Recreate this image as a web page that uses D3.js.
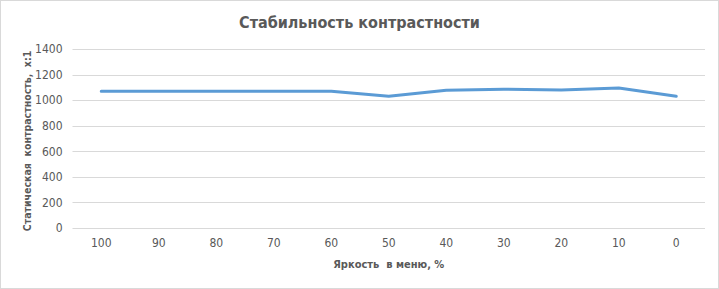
<!DOCTYPE html>
<html><head><meta charset="utf-8">
<script src="https://cdn.jsdelivr.net/npm/d3@7"></script>
<style>body{margin:0;background:#fff}svg{display:block}text{font-family:"Liberation Sans Narrow","DejaVu Sans Condensed","Liberation Sans",sans-serif}</style>
</head><body><svg id="c" width="719" height="289"></svg>
<script>
const categories = ["100","90","80","70","60","50","40","30","20","10","0"];
const contrast = [1070,1070,1070,1070,1070,1030,1078,1085,1080,1095,1030];
const yTicks = [0,200,400,600,800,1000,1200,1400];
const title = "Стабильность контрастности";
const yTitle = "Статическая  контрастность,  х:1";
const xTitle = "Яркость  в меню, %";

const svg = d3.select("#c");
const W = 719, H = 289;
const m = {l:72.5, r:14, t:49, b:61};
svg.append("rect").attr("x",0.5).attr("y",0.5).attr("width",W-1).attr("height",H-1)
  .attr("fill","#fff").attr("stroke","#d9d9d9");

const x = d3.scaleBand().domain(categories).range([m.l, W-m.r]);
const y = d3.scaleLinear().domain([0,1400]).range([H-m.b, m.t]);

const grid = svg.append("g");
grid.selectAll("line").data(yTicks).join("line")
  .attr("x1",m.l).attr("x2",W-m.r)
  .attr("y1",d=>Math.round(y(d))+0.5).attr("y2",d=>Math.round(y(d))+0.5)
  .attr("stroke","#d9d9d9").attr("stroke-width",1);

const yAxis = d3.axisLeft(y).tickValues(yTicks).tickFormat(d3.format("d")).tickSize(0).tickPadding(10);
svg.append("g").attr("transform",`translate(${m.l},0)`).call(yAxis)
  .call(g=>g.select(".domain").remove())
  .call(g=>g.selectAll("text").attr("fill","#595959").style("font-size","12px").attr("font-family",null));

const xAxis = d3.axisBottom(x).tickSize(0).tickPadding(10);
svg.append("g").attr("transform",`translate(0,${H-m.b})`).call(xAxis)
  .call(g=>g.select(".domain").remove())
  .call(g=>g.selectAll("text").attr("fill","#595959").style("font-size","12px").attr("font-family",null));

const line = d3.line().x((d,i)=>x(categories[i])+x.bandwidth()/2).y(d=>y(d));
svg.append("path").datum(contrast).attr("d",line).attr("fill","none")
  .attr("stroke","#5b9bd5").attr("stroke-width",3).attr("stroke-linejoin","round").attr("stroke-linecap","round");

svg.append("text").attr("x",359.5).attr("y",28).attr("text-anchor","middle")
  .attr("fill","#595959").style("font-size","16px").style("font-weight","bold").style("white-space","pre").text(title);
svg.append("text").attr("x",(m.l+W-m.r)/2).attr("y",268).attr("text-anchor","middle")
  .attr("fill","#595959").style("font-size","11px").style("font-weight","bold").style("white-space","pre").text(xTitle);
svg.append("text").attr("transform","translate(31,141) rotate(-90)").attr("text-anchor","middle")
  .attr("fill","#595959").style("font-size","10.5px").style("font-weight","bold").style("white-space","pre").text(yTitle);
</script></body></html>
